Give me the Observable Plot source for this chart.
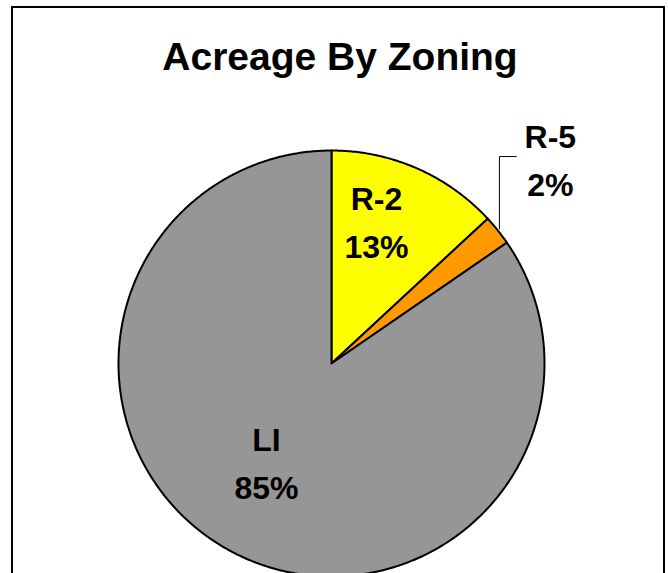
<!DOCTYPE html>
<html><head><meta charset="utf-8">
<script src="https://cdn.jsdelivr.net/npm/d3@7"></script>
<script src="https://cdn.jsdelivr.net/npm/@observablehq/plot@0.6"></script>
<style>
html,body{margin:0;padding:0;width:668px;height:573px;overflow:hidden;background:#fff;}
#frame{position:absolute;left:11px;top:6px;width:654px;height:640px;border:2px solid #000;box-sizing:border-box;}
#title{position:absolute;left:0;top:37px;width:680px;text-align:center;font:bold 39px "Liberation Sans",Arial,sans-serif;line-height:39px;color:#000;white-space:nowrap;}
#chart{position:absolute;left:0;top:95px;}
</style></head><body>
<div id="frame"></div>
<div id="title">Acreage By Zoning</div>
<div id="chart"></div>
<script>
// Data
const zones = ["R-2", "R-5", "LI"];
const acreageShare = [13.1, 2.3, 84.6];
const sliceColors = ["#FFFF00", "#FF9900", "#969696"];

// Label placement (radius factor and angle nudge in degrees, relative to slice mid-angle)
const labelPlacement = {"R-2": {r: 0.71, da: -6.3}, "R-5": {r: 1.414, da: -4.7}, "LI": {r: 0.544, da: 6.4}};
const outsideLabels = ["R-5"];

const total = d3.sum(acreageShare);
let cum = 0;
const slices = zones.map((z, i) => {
  const start = cum / total; cum += acreageShare[i];
  return {zone: z, value: acreageShare[i], start, end: cum / total};
});

const pts = [];
for (const s of slices) {
  pts.push({zone: s.zone, x: 0, y: 0});
  const n = Math.max(4, Math.ceil((s.end - s.start) * 720));
  for (let k = 0; k <= n; k++) {
    const a = 2 * Math.PI * (s.start + (s.end - s.start) * k / n);
    pts.push({zone: s.zone, x: Math.sin(a), y: Math.cos(a)});
  }
}

const labels = slices.map(s => {
  const p = labelPlacement[s.zone];
  const a = 2 * Math.PI * (s.start + s.end) / 2 + p.da * Math.PI / 180;
  return {zone: s.zone, x: p.r * Math.sin(a), y: p.r * Math.cos(a),
          text: `${s.zone}\n${Math.round(s.value / total * 100)}%`, mid: 2 * Math.PI * (s.start + s.end) / 2};
});

const leaders = [];
for (const l of labels.filter(d => outsideLabels.includes(d.zone))) {
  const ex = Math.sin(l.mid) * 1.01, ey = Math.cos(l.mid) * 1.01;
  leaders.push({zone: l.zone, x: ex, y: ey});
  leaders.push({zone: l.zone, x: ex, y: l.y});
  leaders.push({zone: l.zone, x: l.x - 0.16, y: l.y});
}

const chart = Plot.plot({
  width: 668, height: 484,
  marginLeft: 118, marginRight: 124, marginTop: 55, marginBottom: 3,
  x: {domain: [-1, 1], axis: null},
  y: {domain: [-1, 1], axis: null},
  color: {domain: zones, range: sliceColors},
  style: {background: "transparent", overflow: "visible"},
  marks: [
    Plot.line(pts, {x: "x", y: "y", z: "zone", fill: "zone", stroke: "#000", strokeWidth: 2, curve: "linear-closed", strokeLinejoin: "round"}),
    Plot.line(leaders, {x: "x", y: "y", z: "zone", stroke: "#000", strokeWidth: 1}),
    Plot.text(labels, {x: "x", y: "y", text: "text", fontSize: 32, fontWeight: "bold", fontFamily: "Liberation Sans, Arial, sans-serif", lineHeight: 1.5, fill: "#000"})
  ]
});
document.getElementById("chart").appendChild(chart);
</script>
</body></html>
